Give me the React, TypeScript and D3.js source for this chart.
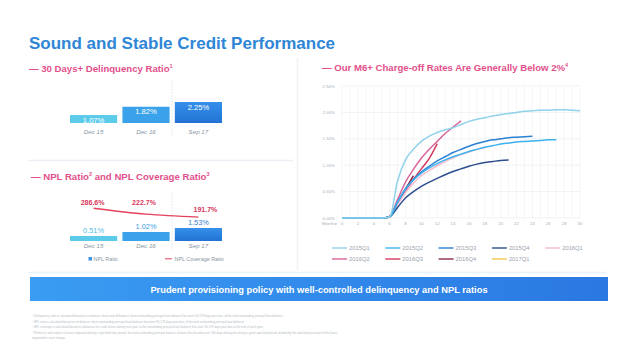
import React from "react";
import * as d3 from "d3";

const delCats = ["Dec 15", "Dec 16", "Sep 17"];
const delValues = [1.07, 1.82, 2.25];
const nplValues = [0.51, 1.02, 1.53];
const coverageValues = [286.6, 222.7, 191.7];

const months = d3.range(0, 31);
const xTicks = d3.range(0, 31, 2);
const yTicks = [0, 0.5, 1.0, 1.5, 2.0, 2.5];

const vintageNames = ["2015Q1", "2015Q2", "2015Q3", "2015Q4", "2016Q1", "2016Q2", "2016Q3", "2016Q4", "2017Q1"];
const s2015Q1 = [0, 0, 0, 0, 0, 0, 0.02, 0.7, 1.1, 1.3, 1.45, 1.55, 1.62, 1.67, 1.71, 1.77, 1.83, 1.87, 1.9, 1.93, 1.96, 1.98, 2.0, 2.02, 2.03, 2.04, 2.04, 2.05, 2.05, 2.04, 2.03];
const s2015Q2 = [0, 0, 0, 0, 0, 0, 0.02, 0.3, 0.55, 0.72, 0.85, 0.95, 1.03, 1.1, 1.16, 1.21, 1.26, 1.3, 1.34, 1.37, 1.4, 1.42, 1.44, 1.45, 1.46, 1.47, 1.48, 1.48];
const s2015Q3 = [0, 0, 0, 0, 0, 0, 0.02, 0.3, 0.55, 0.73, 0.87, 0.98, 1.08, 1.16, 1.24, 1.3, 1.36, 1.41, 1.45, 1.48, 1.5, 1.52, 1.53, 1.54, 1.55];
const s2015Q4 = [0, 0, 0, 0, 0, 0, 0.02, 0.2, 0.38, 0.5, 0.6, 0.68, 0.75, 0.82, 0.88, 0.93, 0.98, 1.02, 1.05, 1.07, 1.09, 1.1];
const s2016Q1 = [0, 0, 0, 0, 0, 0, 0.02, 0.25, 0.48, 0.66, 0.8, 0.9, 0.99, 1.07, 1.14, 1.2, 1.25, 1.3, 1.33];
const s2016Q2 = [0, 0, 0, 0, 0, 0, 0.03, 0.35, 0.68, 0.92, 1.13, 1.3, 1.45, 1.6, 1.72, 1.84];
const s2016Q3 = [0, 0, 0, 0, 0, 0, 0.03, 0.28, 0.52, 0.73, 0.93, 1.13, 1.41];
const s2016Q4 = [0, 0, 0, 0, 0, 0, 0.03, 0.3, 0.55, 0.8];
const s2017Q1 = [0, 0, 0, 0, 0, 0, 0.01];
const vintageSeries = [s2015Q1, s2015Q2, s2015Q3, s2015Q4, s2016Q1, s2016Q2, s2016Q3, s2016Q4, s2017Q1];
const vintageColors = ["#8fd2ea", "#3db2ec", "#2a80d2", "#2d4e8e", "#f3bcd0", "#d9649a", "#d43a60", "#8c2a4e", "#f2c84b"];

const footnotes = [
  "¹ Delinquency ratio is calculated based on on-balance sheet and off-balance sheet outstanding principal loan balance that were 30-179 days past due, of the total outstanding principal loan balance.",
  "² NPL ratio is calculated based on on-balance sheet outstanding principal loan balance that were 90-179 days past due, of the total outstanding principal loan balance.",
  "³ NPL coverage is calculated based on allowance for credit losses during each year to the outstanding principal loan balance that were 90-179 days past due at the end of each year.",
  "⁴ Refers to, with respect to loans originated during a specified time period, the total outstanding principal balance of loans that become over 180 days delinquent during a given specified period, divided by the total initial principal of the loans",
  "originated in such vintage.",
];

const FONT = "'Liberation Sans', Arial, Helvetica, sans-serif";
const PINK = "#e2508c";

export default function App() {
  const band = d3.scaleBand<string>().domain(delCats).range([70, 222]).paddingInner(0.1);
  const yDel = d3.scaleLinear().domain([0.35, 2.25]).range([123, 102]);
  const yNpl = d3.scaleLinear().domain([-0.13, 1.53]).range([241, 228]);
  const yCov = d3.scaleLinear().domain([150, 300]).range([221, 207]);
  const barColors = ["#5ccbea", "#3aa2ea", "url(#gBar3)"];
  const nplLabelColors = ["#4cc0e6", "#3a9ee6", "#2f7fd8"];

  const covLine = d3
    .line<number>()
    .x((_, i) => band(delCats[i])! + band.bandwidth() / 2)
    .y((d) => yCov(d))
    .curve(d3.curveMonotoneX);

  const xR = d3.scaleLinear().domain([0, 30]).range([342, 580]);
  const yR = d3.scaleLinear().domain([0, 2.5]).range([218, 86]);
  const vLine = d3
    .line<number>()
    .x((_, i) => xR(months[i]))
    .y((d) => yR(d))
    .curve(d3.curveMonotoneX);

  const fmtPct = (v: number) => v.toFixed(2) + "%";

  return (
    <svg width={640} height={359} style={{ display: "block", position: "absolute", left: 0, top: 0, background: "#fff" }} fontFamily={FONT}>
      <defs>
        <linearGradient id="gBar3" x1="0" y1="0" x2="0" y2="1">
          <stop offset="0" stopColor="#3690ea" />
          <stop offset="1" stopColor="#2272d4" />
        </linearGradient>
        <linearGradient id="gBanner" x1="0" y1="0" x2="1" y2="0">
          <stop offset="0" stopColor="#3a9cf2" />
          <stop offset="1" stopColor="#2a78e2" />
        </linearGradient>
      </defs>

      {/* card edges */}
      <line x1={28} x2={293} y1={160.5} y2={160.5} stroke="#eceff3" strokeWidth={1.5} />
      <line x1={297.5} x2={297.5} y1={58} y2={270} stroke="#f0f2f5" strokeWidth={1.5} />
      <line x1={28} x2={606} y1={272.5} y2={272.5} stroke="#e6f4fb" strokeWidth={1.5} />

      {/* title */}
      <text x={29} y={49} fontSize={17} fontWeight="bold" fill="#2f86d6">Sound and Stable Credit Performance</text>

      {/* section 1 */}
      <text x={29} y={71.5} fontSize={9.6} fontWeight="bold" fill={PINK}>
        — 30 Days+ Delinquency Ratio<tspan fontSize={5.5} dy={-3.5}>1</tspan>
      </text>
      <line x1={172} x2={172} y1={80} y2={136} stroke="#cfd6de" strokeWidth={0.6} strokeDasharray="1.5,1.5" />
      {delCats.map((c, i) => (
        <g key={c}>
          <rect x={band(c)} y={yDel(delValues[i])} width={band.bandwidth()} height={123 - yDel(delValues[i])} fill={barColors[i]} />
          <text x={band(c)! + band.bandwidth() / 2} y={yDel(delValues[i]) + 7.5} fontSize={7.6} fill="#fff" textAnchor="middle">{fmtPct(delValues[i])}</text>
          <text x={band(c)! + band.bandwidth() / 2} y={134} fontSize={6.2} fontStyle="italic" fill="#8a96a4" textAnchor="middle">{c}</text>
        </g>
      ))}

      {/* section 2 */}
      <text x={31} y={179.5} fontSize={9.6} fontWeight="bold" fill={PINK}>
        — NPL Ratio<tspan fontSize={5.5} dy={-3.5}>2</tspan><tspan dy={3.5}> and NPL Coverage Ratio</tspan><tspan fontSize={5.5} dy={-3.5}>3</tspan>
      </text>
      <line x1={172} x2={172} y1={192} y2={250} stroke="#cfd6de" strokeWidth={0.6} strokeDasharray="1.5,1.5" />
      {delCats.map((c, i) => (
        <g key={"n" + c}>
          <rect x={band(c)} y={yNpl(nplValues[i])} width={band.bandwidth()} height={241 - yNpl(nplValues[i])} fill={barColors[i]} />
          <text x={band(c)! + band.bandwidth() / 2} y={yNpl(nplValues[i]) - 3} fontSize={7.4} fill={nplLabelColors[i]} textAnchor="middle">{fmtPct(nplValues[i])}</text>
          <text x={band(c)! + band.bandwidth() / 2} y={248} fontSize={6.2} fontStyle="italic" fill="#8a96a4" textAnchor="middle">{c}</text>
        </g>
      ))}
      <path d={covLine(coverageValues) || ""} fill="none" stroke="#e5415c" strokeWidth={1.3} />
      {coverageValues.map((v, i) => {
        const cx = band(delCats[i])! + band.bandwidth() / 2 + (i === 0 ? -1 : i === 1 ? -2 : 7);
        const cy = i === 2 ? yCov(v) - 5.5 : yCov(d3.max(coverageValues)!) - 3.5;
        return (
          <text key={"c" + i} x={cx} y={cy} fontSize={7} fontWeight="bold" fill="#d8385c" textAnchor="middle">{v.toFixed(1)}%</text>
        );
      })}
      {/* legend left */}
      <rect x={88.5} y={257} width={3.5} height={3.5} fill="#3a92e6" />
      <text x={93.5} y={260.5} fontSize={5.4} fill="#8a96a4">NPL Ratio</text>
      <line x1={165} x2={172} y1={258.8} y2={258.8} stroke="#e5415c" strokeWidth={1} />
      <text x={174.5} y={260.5} fontSize={5.4} fill="#8a96a4">NPL Coverage Ratio</text>

      {/* right panel */}
      <text x={322} y={70.5} fontSize={9.6} fontWeight="bold" fill={PINK}>
        — Our M6+ Charge-off Rates Are Generally Below 2%<tspan fontSize={5.5} dy={-3.5}>4</tspan>
      </text>
      {months.map((m) => (
        <line key={"vg" + m} x1={xR(m)} x2={xR(m)} y1={yR(2.5)} y2={yR(0)} stroke="#edf0f3" strokeWidth={0.6} />
      ))}
      {yTicks.map((t) => (
        <g key={"yt" + t}>
          <line x1={xR(0)} x2={xR(30)} y1={yR(t)} y2={yR(t)} stroke="#e6e9ec" strokeWidth={0.6} />
          <text x={335} y={yR(t) + 1.5} fontSize={4.4} fill="#a8b0b8" textAnchor="end">{t.toFixed(2)}%</text>
        </g>
      ))}
      <text x={322} y={224.5} fontSize={4.4} fill="#a8b0b8">Month ▸</text>
      {xTicks.map((t) => (
        <text key={"xt" + t} x={xR(t)} y={224.5} fontSize={4.4} fill="#a8b0b8" textAnchor="middle">{t}</text>
      ))}
      {vintageSeries
        .map((s, i) => ({ s, i }))
        .reverse()
        .map(({ s, i }) => (
          <path key={vintageNames[i]} d={vLine(s) || ""} fill="none" stroke={vintageColors[i]} strokeWidth={1.5} />
        ))}
      {vintageNames.map((n, i) => {
        const col = i % 5;
        const row = Math.floor(i / 5);
        const lx = 332 + col * 53.3;
        const ly = 248 + row * 11;
        return (
          <g key={"lg" + n}>
            <line x1={lx} x2={lx + 15} y1={ly} y2={ly} stroke={vintageColors[i]} strokeWidth={1.4} />
            <text x={lx + 17} y={ly + 2} fontSize={5.8} fill="#9aa3ad">{n}</text>
          </g>
        );
      })}

      {/* banner */}
      <rect x={30} y={277} width={578} height={24} fill="url(#gBanner)" />
      <text x={319} y={292.5} fontSize={9.3} fontWeight="bold" fill="#fff" textAnchor="middle">Prudent provisioning policy with well-controlled delinquency and NPL ratios</text>

      {/* footnotes */}
      {footnotes.map((f, i) => (
        <text key={"fn" + i} x={32} y={317 + i * 5.6} fontSize={2.9} fill="#b4bcc4">{f}</text>
      ))}
    </svg>
  );
}
